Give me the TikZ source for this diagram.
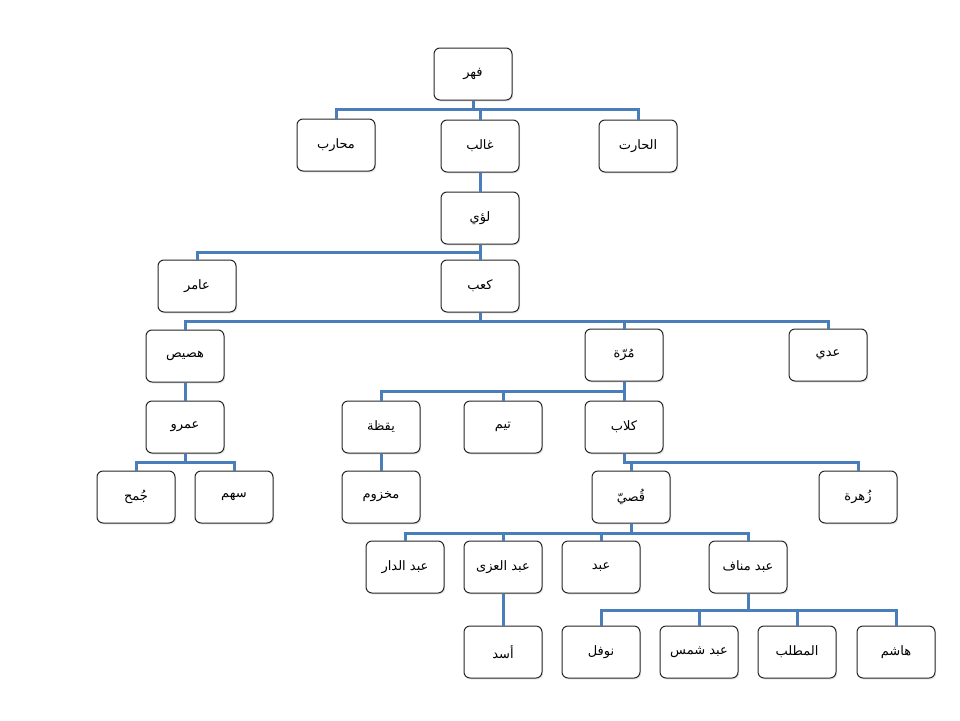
\documentclass[tikz,border=0pt]{standalone}
\usepackage{fontspec}
\newfontfamily\arabicfont[Script=Arabic]{DejaVu Sans}
\TeXXeTstate=1
\usetikzlibrary{shadows}
\definecolor{conncol}{HTML}{4A7EBB}
\tikzset{
  person/.style={draw=black!85, line width=1pt, rounded corners=6pt, fill=white,
    minimum width=78pt, minimum height=52pt, inner sep=0pt,
    font=\arabicfont\fontsize{13}{15}\selectfont,
    drop shadow={opacity=0.18, shadow xshift=1.2pt, shadow yshift=-1.5pt}},
  conn/.style={draw=conncol, line width=3pt}
}
\newcommand{\ar}[1]{\beginR #1\endR}
\begin{document}
\begin{tikzpicture}[x=1pt,y=-1pt]
\useasboundingbox (0,0) rectangle (960,720);
% connectors first, so boxes sit on top
\coordinate (b1) at (0,109);
\coordinate (b2) at (0,252);
\coordinate (b3) at (0,321);
\coordinate (b4) at (0,462);
\coordinate (b5) at (0,391);
\coordinate (b6) at (0,533);
\coordinate (b7) at (0,610);
% nodes
\node[person] (fahr) at (473,74) {\ar{فهر}};
\node[person] (muharib) at (336,145) {\ar{محارب}};
\node[person] (ghalib) at (480,146) {\ar{غالب}};
\node[person] (harith) at (638,146) {\ar{الحارت}};
\node[person] (luayy) at (480,218) {\ar{لؤي}};
\node[person] (amir) at (197,286) {\ar{عامر}};
\node[person] (kaab) at (480,286) {\ar{كعب}};
\node[person] (husays) at (185,356) {\ar{هصيص}};
\node[person] (murra) at (624,355) {\ar{مُرّة}};
\node[person] (adi) at (828,355) {\ar{عدي}};
\node[person] (amr) at (185,427) {\ar{عمرو}};
\node[person] (yaqaza) at (381,427) {\ar{يقظة}};
\node[person] (taym) at (503,427) {\ar{تيم}};
\node[person] (kilab) at (624,427) {\ar{كلاب}};
\node[person] (jumah) at (136,497) {\ar{جُمح}};
\node[person] (sahm) at (234,497) {\ar{سهم}};
\node[person] (makhzum) at (381,497) {\ar{مخزوم}};
\node[person] (qusayy) at (631,497) {\ar{قُصيّ}};
\node[person] (zuhra) at (858,497) {\ar{زُهرة}};
\node[person] (abddar) at (405,567) {\ar{عبد الدار}};
\node[person] (abduzza) at (503,567) {\ar{عبد العزى}};
\node[person] (abd) at (601,567) {\ar{عبد}};
\node[person] (abdmanaf) at (748,567) {\ar{عبد مناف}};
\node[person] (asad) at (503,652) {\ar{أسد}};
\node[person] (nawfal) at (601,652) {\ar{نوفل}};
\node[person] (abdshams) at (699,652) {\ar{عبد شمس}};
\node[person] (muttalib) at (797,652) {\ar{المطلب}};
\node[person] (hashim) at (896,652) {\ar{هاشم}};
\foreach \p/\c/\b in {fahr/muharib/b1, fahr/ghalib/b1, fahr/harith/b1,
  luayy/amir/b2, luayy/kaab/b2,
  kaab/husays/b3, kaab/murra/b3, kaab/adi/b3,
  amr/jumah/b4, amr/sahm/b4,
  murra/yaqaza/b5, murra/taym/b5, murra/kilab/b5,
  kilab/qusayy/b4, kilab/zuhra/b4,
  qusayy/abddar/b6, qusayy/abduzza/b6, qusayy/abd/b6, qusayy/abdmanaf/b6,
  abdmanaf/nawfal/b7, abdmanaf/abdshams/b7, abdmanaf/muttalib/b7, abdmanaf/hashim/b7}
  {\draw[conn] (\p.south) -- (\p.south |- \b) -| (\c.north);}
\draw[conn] (ghalib.south) -- (luayy.north);
\draw[conn] (husays.south) -- (amr.north);
\draw[conn] (yaqaza.south) -- (makhzum.north);
\draw[conn] (abduzza.south) -- (asad.north);
\end{tikzpicture}
\end{document}
